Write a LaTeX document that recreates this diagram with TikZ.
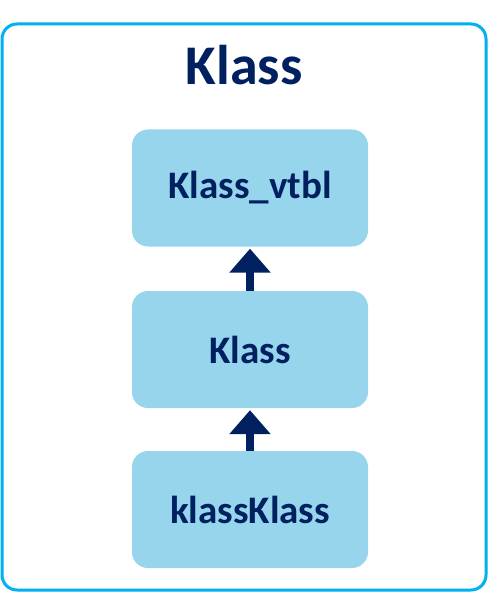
\documentclass[tikz,border=0pt]{standalone}
\usepackage{fontspec}
\setmainfont{Carlito}
\usetikzlibrary{arrows.meta, positioning}
\definecolor{FrameCyan}{HTML}{00B0F0}
\definecolor{BoxBlue}{HTML}{97D5EC}
\definecolor{NavyText}{HTML}{002060}
\tikzset{
  frame/.style={draw=FrameCyan, line width=3pt, rounded corners=15pt},
  classbox/.style={fill=BoxBlue, rounded corners=16pt, minimum width=236pt, minimum height=117pt, inner sep=0pt, align=center, text=NavyText, font=\fontsize{39}{44}\selectfont\bfseries},
  titletext/.style={text=NavyText, inner sep=0pt, font=\fontsize{56}{62}\selectfont\bfseries},
  uparrow/.style={-{Triangle[width=40pt, length=24pt]}, line width=8pt, draw=NavyText, shorten >=2pt}
}

\begin{document}
\begin{tikzpicture}[x=1pt, y=-1pt]
\useasboundingbox (0,0) rectangle (488,593);
\draw[frame] (2,24) rectangle (486,590);
\node[titletext] (title) at (244,65.5) {Klass};
\node[classbox] (vtbl) at (250,188) {Klass\_vtbl};
\node[classbox] (klass) at (250,349.5) {Klass};
\node[classbox] (kk) at (250,509.5) {klassKlass};
\draw[uparrow] (klass) -- (vtbl);
\draw[uparrow] (kk) -- (klass);
\end{tikzpicture}
\end{document}
